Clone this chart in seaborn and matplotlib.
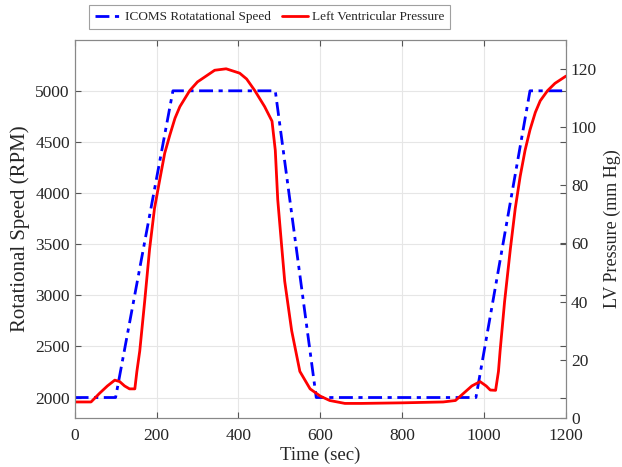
import numpy as np
import pandas as pd
import seaborn as sns
import matplotlib.pyplot as plt

# ICOMS speed profile (RPM)
speed_t = [0, 100, 240, 490, 590, 980, 1112, 1200]
speed_rpm = [2000, 2000, 5000, 5000, 2000, 2000, 5000, 5000]

# left ventricular pressure (mm Hg)
lvp_t = [0, 40, 61, 80, 98, 110, 122, 134, 147, 152, 159, 171, 183, 195, 208, 220, 232,
         245, 257, 281, 300, 342, 370, 403, 420, 440, 464, 482, 490, 496, 505, 513, 530,
         550, 575, 600, 623, 660, 700, 800, 900, 930, 950, 970, 990, 1005, 1015, 1028,
         1035, 1039, 1050, 1064, 1076, 1088, 1100, 1112, 1125, 1137, 1155, 1173, 1200]
lvp_mmhg = [5.5, 5.5, 8.5, 11, 13, 12.5, 11, 10, 10, 16, 23, 40, 58, 72, 82, 91, 97,
            103, 107, 112.5, 115.5, 119.5, 120, 118.5, 116.5, 112.5, 107, 102, 92, 75, 60, 47, 30,
            16, 10, 7.5, 6, 5, 5, 5.2, 5.5, 6, 8.5, 11, 12.5, 11, 9.6, 9.5,
            16, 23, 40, 58, 72, 83, 92, 99, 105, 109, 112.5, 115, 117.5]

speed = pd.DataFrame({'t': speed_t, 'rpm': speed_rpm})
lvp = pd.DataFrame({'t': lvp_t, 'p': lvp_mmhg})

sns.set_style('ticks')
plt.rcParams['font.family'] = ['Liberation Serif', 'DejaVu Serif']

fig, ax = plt.subplots(figsize=(6.22, 4.67), dpi=100)
fig.subplots_adjust(left=0.12, right=0.91, top=0.915, bottom=0.105)
ax2 = ax.twinx()

sns.lineplot(data=speed, x='t', y='rpm', ax=ax, color='#0000ff', linewidth=2,
             linestyle=(0, (5, 2, 1.5, 2)), label='ICOMS Rotatational Speed', legend=False)
sns.lineplot(data=lvp, x='t', y='p', ax=ax2, color='#ff0000', linewidth=2,
             label='Left Ventricular Pressure', legend=False)

ax.set_xlim(0, 1200)
ax.set_ylim(1800, 5500)
ax2.set_ylim(0, 130)
ax.set_xticks(np.arange(0, 1201, 200))
ax.set_yticks(np.arange(2000, 5001, 500))
ax2.set_yticks(np.arange(0, 121, 20))
ax.grid(True, color='#e6e6e6', linewidth=0.8)
ax.set_axisbelow(True)

ax.set_xlabel('Time (sec)', fontsize=13.5, labelpad=2)
ax.set_ylabel('Rotational Speed (RPM)', fontsize=15, labelpad=4)
ax2.set_ylabel('LV Pressure (mm Hg)', fontsize=13, labelpad=5)

for a in (ax, ax2):
    a.tick_params(labelsize=12.5, color='#555555', length=4, direction='in')
    for s in a.spines.values():
        s.set_color('#888888')
ax.tick_params(right=True, top=True)
ax.tick_params(axis='x', pad=7)

h1, l1 = ax.get_legend_handles_labels()
h2, l2 = ax2.get_legend_handles_labels()
leg = ax.legend(h1 + h2, l1 + l2, loc='lower center', bbox_to_anchor=(0.397, 1.01),
                ncol=2, fontsize=9.5, frameon=True, fancybox=False, edgecolor='#888888',
                handlelength=2.0, columnspacing=0.8, handletextpad=0.3, borderpad=0.45)
leg.get_frame().set_linewidth(0.8)

fig.savefig('out.png', dpi=100)
